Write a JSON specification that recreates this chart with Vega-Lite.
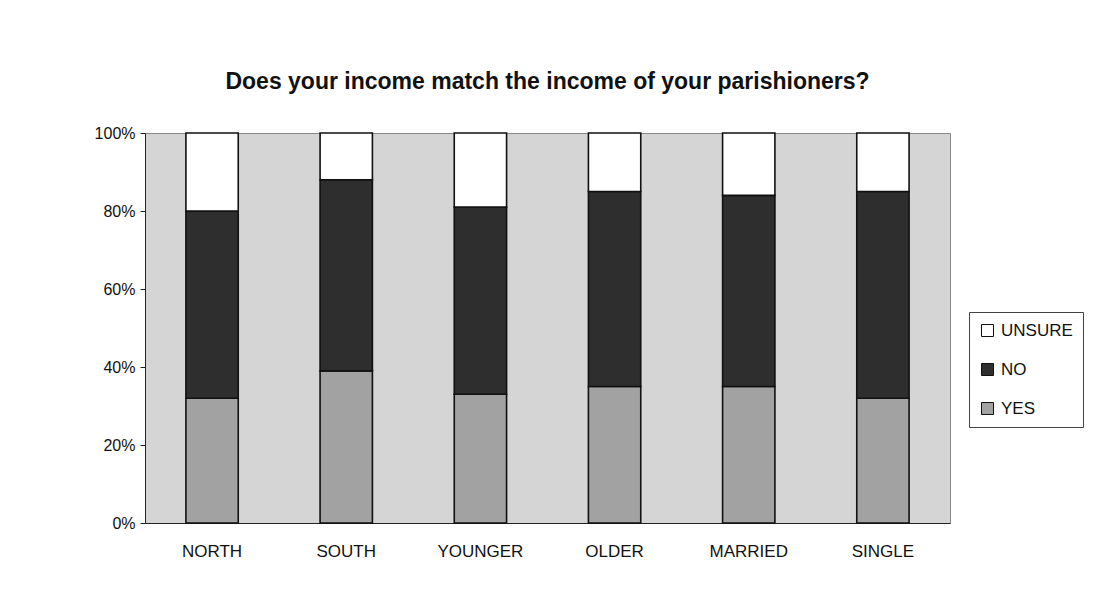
{
  "$schema": "https://vega.github.io/schema/vega-lite/v6.json",
  "width": 805,
  "height": 390,
  "autosize": {"type": "none"},
  "padding": {"left": 145, "top": 133, "right": 154, "bottom": 84},
  "background": "#ffffff",
  "title": {
    "text": "Does your income match the income of your parishioners?",
    "font": "Liberation Sans",
    "fontSize": 23,
    "fontWeight": "bold",
    "color": "#111111",
    "anchor": "middle",
    "offset": 31
  },
  "config": {
    "view": {"fill": "#d5d5d5", "stroke": "#888888", "strokeWidth": 1},
    "axis": {"labelFont": "Liberation Sans", "labelColor": "#111111", "domainColor": "#222222", "tickColor": "#222222"}
  },
  "data": {
    "values": [
      {"group": "NORTH", "response": "YES", "pct": 32, "ord": 1},
      {"group": "NORTH", "response": "NO", "pct": 48, "ord": 2},
      {"group": "NORTH", "response": "UNSURE", "pct": 20, "ord": 3},
      {"group": "SOUTH", "response": "YES", "pct": 39, "ord": 1},
      {"group": "SOUTH", "response": "NO", "pct": 49, "ord": 2},
      {"group": "SOUTH", "response": "UNSURE", "pct": 12, "ord": 3},
      {"group": "YOUNGER", "response": "YES", "pct": 33, "ord": 1},
      {"group": "YOUNGER", "response": "NO", "pct": 48, "ord": 2},
      {"group": "YOUNGER", "response": "UNSURE", "pct": 19, "ord": 3},
      {"group": "OLDER", "response": "YES", "pct": 35, "ord": 1},
      {"group": "OLDER", "response": "NO", "pct": 50, "ord": 2},
      {"group": "OLDER", "response": "UNSURE", "pct": 15, "ord": 3},
      {"group": "MARRIED", "response": "YES", "pct": 35, "ord": 1},
      {"group": "MARRIED", "response": "NO", "pct": 49, "ord": 2},
      {"group": "MARRIED", "response": "UNSURE", "pct": 16, "ord": 3},
      {"group": "SINGLE", "response": "YES", "pct": 32, "ord": 1},
      {"group": "SINGLE", "response": "NO", "pct": 53, "ord": 2},
      {"group": "SINGLE", "response": "UNSURE", "pct": 15, "ord": 3}
    ]
  },
  "mark": {"type": "bar", "stroke": "#111111", "strokeWidth": 1.6},
  "encoding": {
    "x": {
      "field": "group",
      "type": "nominal",
      "sort": null,
      "scale": {"paddingInner": 0.61, "paddingOuter": 0.305},
      "axis": {"title": null, "labelAngle": 0, "labelFontSize": 17, "labelPadding": 20, "ticks": false, "domainWidth": 1}
    },
    "y": {
      "field": "pct",
      "type": "quantitative",
      "stack": "normalize",
      "scale": {"domain": [0, 1], "nice": false},
      "axis": {"title": null, "format": ".0%", "values": [0, 0.2, 0.4, 0.6, 0.8, 1], "labelFontSize": 16, "labelPadding": 5, "tickSize": 5, "grid": false}
    },
    "color": {
      "field": "response",
      "type": "nominal",
      "scale": {"domain": ["UNSURE", "NO", "YES"], "range": ["#ffffff", "#2e2e2e", "#a2a2a2"]},
      "legend": {
        "title": null,
        "orient": "none",
        "legendX": 824,
        "legendY": 179,
        "symbolType": "square",
        "symbolSize": 144,
        "symbolStrokeColor": "#111111",
        "symbolStrokeWidth": 1,
        "labelFont": "Liberation Sans",
        "labelFontSize": 17,
        "labelColor": "#111111",
        "labelOffset": 5,
        "rowPadding": 21,
        "padding": 10,
        "strokeColor": "#444444",
        "fillColor": "#ffffff"
      }
    },
    "order": {"field": "ord", "type": "quantitative"}
  }
}
